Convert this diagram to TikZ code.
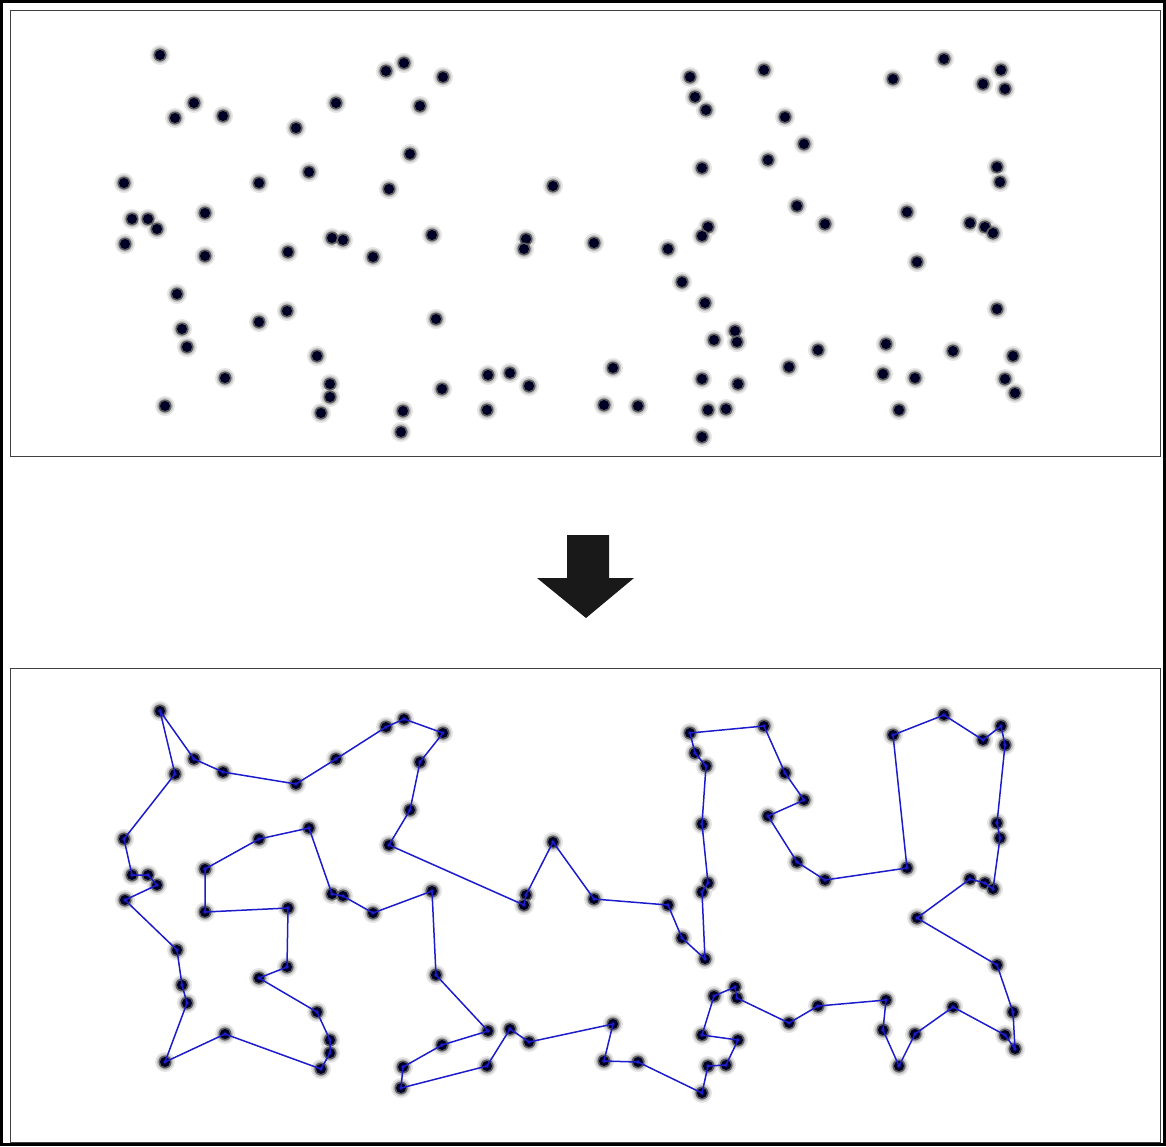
\documentclass[tikz,border=0pt]{standalone}
\usepackage{tikz}
\usetikzlibrary{positioning}
\definecolor{tourblue}{RGB}{28,28,205}

\begin{document}
\begin{tikzpicture}[
  x=0.5pt,y=-0.5pt,
  panel/.style={draw=black!75,line width=0.5pt},
  tour/.style={draw=tourblue,line width=0.75pt,line join=round},
  halo/.pic={
    \fill[gray!20] (0,0) circle (5pt);
    \fill[gray!45] (0,0) circle (4.1pt);
  },
  core/.pic={
    \fill[gray!75!black] (0,0) circle (3.3pt);
    \fill[black!85!blue] (0,0) circle (2.5pt);
  },
]
  \useasboundingbox (0,0) rectangle (1166,1146);
  \draw[line width=1.5pt] (1.5,1.5) rectangle (1164.5,1144.5);

  % the two panels
  \draw[panel] (10,10) rectangle (1160,456);
  \draw[panel] (10,668) rectangle (1160,1142);

  % block arrow between them
  \fill[black!90] (567,535) -- (609,535) -- (609,578) -- (634,578)
    -- (586,618) -- (537,578) -- (567,578) -- cycle;

  % cities: a = top panel, b = bottom panel
  \foreach \px/\py [count=\i] in {
    160/55,194/103,175/118,223/116,296/128,336/103,386/71,404/63,443/77,420/106,
    410/154,389/189,309/172,259/183,124/183,132/219,148/219,157/229,125/244,205/213,
    205/256,288/252,332/238,343/240,373/257,432/235,177/294,182/329,187/347,259/322,
    287/311,317/356,225/378,165/406,330/384,330/397,321/413,403/411,401/432,436/319,
    442/389,488/375,510/373,529/386,487/410,553/186,526/239,524/249,594/243,613/368,
    604/405,638/406,668/249,682/282,705/303,690/77,695/97,706/110,702/168,708/227,
    702/236,714/340,735/331,737/342,702/379,738/384,708/410,726/409,702/437,764/70,
    785/117,804/144,768/160,797/206,825/224,907/212,893/79,944/59,1001/70,983/84,
    1005/89,997/167,1000/182,970/223,985/227,993/233,917/262,997/309,818/350,789/367,
    886/344,883/374,915/378,899/410,953/351,1013/356,1005/379,1015/393}
  {
    \coordinate (a\i) at (\px,\py);
    \coordinate (b\i) at (\px,\py+656);
  }

  \foreach \i in {1,...,98} {
    \pic at (a\i) {halo};
    \pic at (b\i) {halo};
  }
  \foreach \i in {1,...,98} {
    \pic at (a\i) {core};
    \pic at (b\i) {core};
  }

  % tour
  \draw[tour] (b1)
    \foreach \j in {2,4,5,6,7,8,9,10,11,12,48,47,46,49,53,54,55,61,60,59,58,57,
      56,70,71,72,73,74,75,76,77,78,80,79,81,82,83,86,85,84,87,88,96,98,97,95,93,
      94,92,91,89,90,64,63,62,65,66,68,67,69,52,51,50,44,43,45,39,38,41,42,40,26,
      25,24,23,13,14,20,21,22,31,30,32,35,36,37,33,34,29,28,27,19,18,17,16,15,3}
    { -- (b\j) } -- cycle;
  \foreach \i in {1,...,98}
    \fill[tourblue] (b\i) circle (0.9pt);
\end{tikzpicture}
\end{document}
